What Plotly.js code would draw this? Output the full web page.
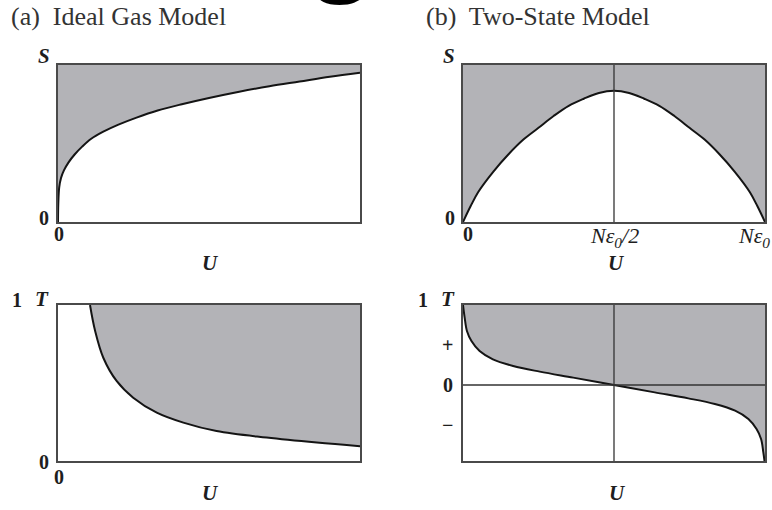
<!DOCTYPE html>
<html>
<head>
<meta charset="utf-8">
<script src="https://cdn.plot.ly/plotly-3.0.1.min.js"></script>
<style>
  html, body { margin: 0; padding: 0; background: #ffffff; overflow: hidden; }
  #wrap { position: relative; width: 772px; height: 510px; overflow: hidden; }
  #chart { width: 772px; height: 510px; }
  /* large heading letter running off the top edge */
  #cap {
    position: absolute; left: 341px; top: -105px; transform: translateX(-50%);
    font-family: 'Liberation Serif', 'DejaVu Serif', serif; font-weight: bold;
    font-size: 104px; line-height: 1; color: #000; pointer-events: none;
  }
</style>
</head>
<body>
<div id="wrap">
  <div id="chart"></div>
  <div id="cap">g</div>
</div>
<script>
// (a) Ideal gas: entropy S against energy U
const gasU_S = [0, 0.001, 0.004, 0.01, 0.02, 0.035, 0.055, 0.08, 0.11, 0.15, 0.2,
                0.26, 0.33, 0.41, 0.5, 0.6, 0.7, 0.8, 0.9, 1.0];
const gasS   = [0, 0.12, 0.22, 0.28, 0.33, 0.38, 0.43, 0.48, 0.53, 0.575, 0.62,
                0.665, 0.71, 0.75, 0.79, 0.83, 0.865, 0.895, 0.925, 0.95];

// (b) Two-state paramagnet: entropy S against energy U
const twoU_S = [0, 0.025, 0.05, 0.1, 0.15, 0.2, 0.25, 0.3, 0.35, 0.4, 0.45, 0.5,
                0.55, 0.6, 0.65, 0.7, 0.75, 0.8, 0.85, 0.9, 0.95, 0.975, 1.0];
const twoS   = [0, 0.10, 0.19, 0.32, 0.43, 0.525, 0.60, 0.675, 0.74, 0.785, 0.822, 0.836,
                0.822, 0.785, 0.74, 0.675, 0.60, 0.525, 0.43, 0.32, 0.19, 0.10, 0];

// (a) Ideal gas: 1/T against U
const gasU_T  = [0.106, 0.123, 0.15, 0.194, 0.249, 0.327, 0.415, 0.525, 0.691, 0.857, 1.0];
const gasInvT = [1.0, 0.833, 0.662, 0.513, 0.406, 0.31, 0.246, 0.192, 0.15, 0.118, 0.095];

// (b) Two-state paramagnet: 1/T against U (changes sign at U = Nε0/2)
const twoU_T  = [0, 0.0055, 0.013, 0.028, 0.055, 0.099, 0.166, 0.254, 0.365, 0.5,
                 0.635, 0.746, 0.834, 0.901, 0.945, 0.972, 0.987, 0.9945, 1.0];
const twoInvT = [1.0, 0.842, 0.675, 0.55, 0.425, 0.321, 0.2375, 0.167, 0.092, 0,
                 -0.092, -0.167, -0.2375, -0.321, -0.425, -0.55, -0.675, -0.842, -1.0];

// Tick labels
const twoU_ticks  = [0, 0.5, 1];
const twoU_labels = ['0', 'N<i>ε</i><sub>0</sub>/2', 'N<i>ε</i><sub>0</sub>'];
const signTicks   = [0.5, 0, -0.5];
const signLabels  = ['+', '0', '\u2212'];

const W = 772, H = 510;
const px = x => x / W;
const py = y => 1 - y / H;

const FILL = '#b3b3b7';
const CURVE = '#141414';
const FRAME = '#4a4a4a';
const SERIF = 'Liberation Serif, DejaVu Serif, serif';

// Gray band between the curve and the top of its frame
function shaded(u, v, xa, ya, top) {
  return [
    { x: u, y: u.map(() => top), xaxis: xa, yaxis: ya, mode: 'lines',
      line: { width: 0, color: FILL }, hoverinfo: 'skip', showlegend: false },
    { x: u, y: v, xaxis: xa, yaxis: ya, mode: 'lines', fill: 'tonexty',
      fillcolor: FILL, line: { color: CURVE, width: 2, shape: 'spline', smoothing: 1 },
      hoverinfo: 'skip', showlegend: false }
  ];
}

const data = [
  ...shaded(gasU_S, gasS, 'x', 'y', 1),
  ...shaded(twoU_S, twoS, 'x2', 'y2', 1),
  ...shaded(gasU_T, gasInvT, 'x3', 'y3', 1),
  ...shaded(twoU_T, twoInvT, 'x4', 'y4', 1)
];

function axis(domain, range, anchor) {
  return {
    domain: domain, range: range, anchor: anchor,
    showgrid: false, zeroline: false, showticklabels: false, ticks: '',
    showline: true, mirror: true, linecolor: FRAME, linewidth: 2,
    fixedrange: true
  };
}

const xLeft  = [px(58), px(360)];
const xRight = [px(463), px(765)];
const yTop   = [py(222), py(65)];
const yBot   = [py(461), py(305)];

const thin = { color: '#333333', width: 1.3 };
const shapes = [
  { type: 'line', xref: 'x2', yref: 'y2', x0: twoU_ticks[1], x1: twoU_ticks[1], y0: 0, y1: 1, line: thin },
  { type: 'line', xref: 'x4', yref: 'y4', x0: twoU_ticks[1], x1: twoU_ticks[1], y0: -0.95, y1: 1, line: thin },
  { type: 'line', xref: 'x4', yref: 'y4', x0: 0, x1: 1, y0: signTicks[1], y1: signTicks[1], line: thin }
];

function label(text, x, y, size, extra) {
  return Object.assign({
    text: text, xref: 'paper', yref: 'paper', x: px(x), y: py(y),
    xanchor: 'center', yanchor: 'middle', showarrow: false,
    font: { family: SERIF, size: size, color: '#1e1e1e' }
  }, extra || {});
}
const num = (t, x, y) => label('<b>' + t + '</b>', x, y, 20);
const ital = (t, x, y) => label('<i><b>' + t + '</b></i>', x, y, 21);

const annotations = [
  // panel headings
  label('(a)  Ideal Gas Model', 9, 17, 26, { xanchor: 'left', font: { family: SERIF, size: 26, color: '#333333' } }),
  label('(b)  Two-State Model', 424, 17, 26, { xanchor: 'left', font: { family: SERIF, size: 26, color: '#333333' } }),
  // top-left
  ital('S', 44, 56), num('0', 44, 218), num('0', 59, 234), ital('U', 210, 263),
  // top-right
  ital('S', 449, 56), num('0', 450, 218), num(twoU_labels[0], 468, 234),
  label('<i>' + twoU_labels[1] + '</i>', 614, 237, 22),
  label('<i>' + twoU_labels[2] + '</i>', 754, 237, 22),
  ital('U', 616, 263),
  // bottom-left
  num('1', 17, 300), ital('T', 42, 299), num('0', 44, 462), num('0', 59, 477), ital('U', 210, 493),
  // bottom-right
  num('1', 423, 300), ital('T', 448, 299),
  num(signLabels[0], 448, 345), num(signLabels[1], 448, 385), num(signLabels[2], 448, 425),
  ital('U', 617, 493)
];

const layout = {
  width: W, height: H,
  margin: { l: 0, r: 0, t: 0, b: 0 },
  paper_bgcolor: '#ffffff', plot_bgcolor: '#ffffff',
  showlegend: false,
  xaxis:  axis(xLeft,  [0, 1], 'y'),
  yaxis:  axis(yTop,   [0, 1], 'x'),
  xaxis2: axis(xRight, [0, 1], 'y2'),
  yaxis2: axis(yTop,   [0, 1], 'x2'),
  xaxis3: axis(xLeft,  [0, 1], 'y3'),
  yaxis3: axis(yBot,   [0, 1], 'x3'),
  xaxis4: axis(xRight, [0, 1], 'y4'),
  yaxis4: axis(yBot,   [-0.95, 1], 'x4'),
  shapes: shapes,
  annotations: annotations
};

Plotly.newPlot('chart', data, layout, { staticPlot: true, displayModeBar: false });
</script>
</body>
</html>
